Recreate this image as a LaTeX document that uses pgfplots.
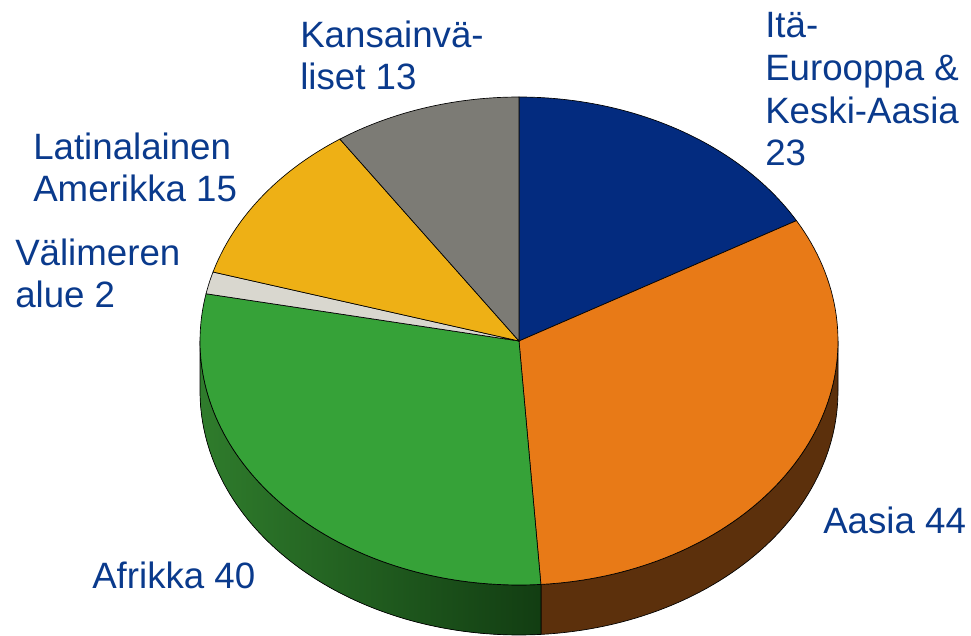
\documentclass[border=0pt]{standalone}
\usepackage{pgfplots}
\pgfplotsset{compat=1.18}
\usepgfplotslibrary{fillbetween}
\usepackage{fontspec}
\setmainfont{Liberation Sans}
\definecolor{cBlue}{HTML}{032B7F}
\definecolor{cOrange}{HTML}{E87A17}
\definecolor{cGreen}{HTML}{36A238}
\definecolor{cLight}{HTML}{D9D7CF}
\definecolor{cYellow}{HTML}{EEB015}
\definecolor{cGray}{HTML}{7C7B75}
\definecolor{cOrangeSide}{HTML}{5C300C}
\definecolor{cGreenSideL}{HTML}{2F7C2C}
\definecolor{cGreenSideR}{HTML}{123D12}
\definecolor{lbl}{HTML}{0A3A8C}
\begin{document}
\begin{tikzpicture}
% values: Itä-Eurooppa & Keski-Aasia, Aasia, Afrikka, Välimeren alue, Latinalainen Amerikka, Kansainväliset
\pgfmathsetmacro{\vA}{23}
\pgfmathsetmacro{\vB}{44}
\pgfmathsetmacro{\vC}{40}
\pgfmathsetmacro{\vD}{2}
\pgfmathsetmacro{\vE}{15}
\pgfmathsetmacro{\vF}{13}
\pgfmathsetmacro{\tot}{\vA+\vB+\vC+\vD+\vE+\vF}
\pgfmathsetmacro{\aA}{90}
\pgfmathsetmacro{\aB}{\aA-360*\vA/\tot}
\pgfmathsetmacro{\aC}{\aB-360*\vB/\tot}
\pgfmathsetmacro{\aD}{\aC-360*\vC/\tot}
\pgfmathsetmacro{\aE}{\aD-360*\vD/\tot}
\pgfmathsetmacro{\aF}{\aE-360*\vE/\tot}
\pgfmathsetmacro{\aG}{\aF-360*\vF/\tot}
\begin{axis}[x=0.75pt, y=0.75pt, xmin=0, xmax=971, ymin=0, ymax=635,
  hide axis, clip=false, trig format=deg]
\path (axis cs:0,0) rectangle (axis cs:971,635);
% side walls
\addplot[draw=none, name path=oT, domain=\aC:0, samples=60] ({519+319*cos(x)},{294+244*sin(x)});
\addplot[draw=none, name path=oB, domain=\aC:0, samples=60] ({519+319*cos(x)},{244+244*sin(x)});
\addplot[fill=cOrangeSide, draw=black, line width=0.5pt] fill between[of=oT and oB];
\addplot[draw=none, name path=gT, domain=-180:\aC, samples=80] ({519+319*cos(x)},{294+244*sin(x)});
\addplot[draw=none, name path=gB, domain=-180:\aC, samples=80] ({519+319*cos(x)},{244+244*sin(x)});
\addplot[left color=cGreenSideL, right color=cGreenSideR, draw=black, line width=0.5pt] fill between[of=gT and gB];
% top slices
\addplot[fill=cBlue, draw=black, line width=0.5pt, domain=\aB:\aA, samples=50] ({519+319*cos(x)},{294+244*sin(x)}) -- (axis cs:519,294) -- cycle;
\addplot[fill=cOrange, draw=black, line width=0.5pt, domain=\aC:\aB, samples=80] ({519+319*cos(x)},{294+244*sin(x)}) -- (axis cs:519,294) -- cycle;
\addplot[fill=cGreen, draw=black, line width=0.5pt, domain=\aD:\aC, samples=80] ({519+319*cos(x)},{294+244*sin(x)}) -- (axis cs:519,294) -- cycle;
\addplot[fill=cLight, draw=black, line width=0.5pt, domain=\aE:\aD, samples=10] ({519+319*cos(x)},{294+244*sin(x)}) -- (axis cs:519,294) -- cycle;
\addplot[fill=cYellow, draw=black, line width=0.5pt, domain=\aF:\aE, samples=40] ({519+319*cos(x)},{294+244*sin(x)}) -- (axis cs:519,294) -- cycle;
\addplot[fill=cGray, draw=black, line width=0.5pt, domain=\aG:\aF, samples=40] ({519+319*cos(x)},{294+244*sin(x)}) -- (axis cs:519,294) -- cycle;
% labels (anchored at the baseline of the last line)
\begin{scope}[every node/.style={anchor=base west, align=left, inner sep=0pt, text=lbl, font=\fontsize{27.5}{32}\selectfont}]
\node at (axis cs:300,545) {Kansainvä-\\liset 13};
\node at (axis cs:765,469) {Itä-\\Eurooppa \&\\Keski-Aasia\\23};
\node at (axis cs:33,433) {Latinalainen\\Amerikka 15};
\node at (axis cs:15,327) {Välimeren\\alue 2};
\node at (axis cs:92,47) {Afrikka 40};
\node at (axis cs:823,102) {Aasia 44};
\end{scope}
\end{axis}
\end{tikzpicture}
\end{document}
